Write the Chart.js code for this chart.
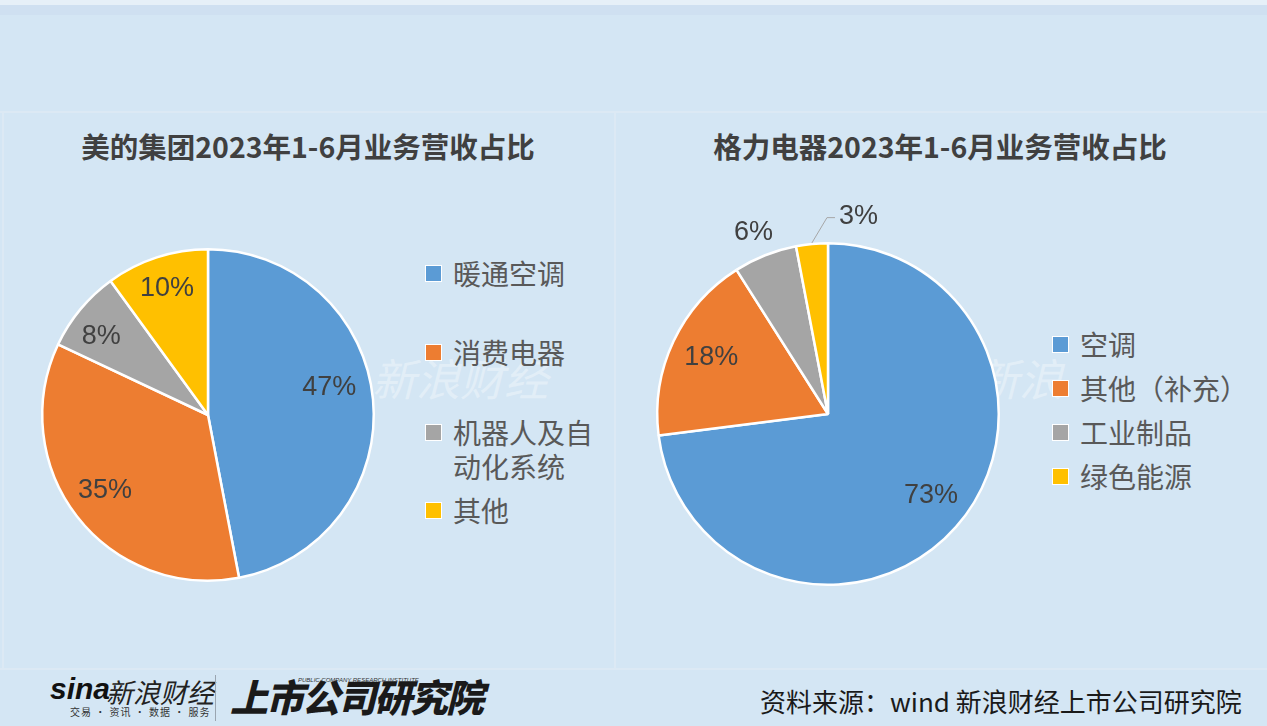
<!DOCTYPE html>
<html>
<head>
<meta charset="utf-8">
<script src="https://cdn.jsdelivr.net/npm/chart.js@4"></script>
<style>
  html, body { margin: 0; padding: 0; }
  body { width: 1267px; height: 726px; overflow: hidden; background: #d4e6f4; position: relative;
         font-family: "Noto Sans CJK SC", "Liberation Sans", sans-serif; }
  .topband { position: absolute; left: 0; top: 0; width: 1267px; height: 5px; background: #e6f0f8; }
  .topband2 { position: absolute; left: 0; top: 5px; width: 1267px; height: 10px; background: #cfe0f1; }
  .hline { position: absolute; left: 0; width: 1267px; height: 2px; background: #dce9f4; }
  .vline { position: absolute; width: 2px; background: #dce9f4; }
  .title { position: absolute; top: 125px; font-size: 28.5px; font-weight: bold; color: #404040;
           text-align: center; width: 600px; }
  .legend { position: absolute; color: #595959; font-size: 28px; line-height: 34px; }
  .legend .item { position: relative; padding-left: 28px; }
  .legend .sw { position: absolute; left: 0; top: 9px; width: 15px; height: 15px; border: 1.5px solid #fff; }
  canvas { position: absolute; }
  .wm { position: absolute; color: rgba(255,255,255,0.35); font-style: italic; font-size: 44px; }
  .source { position: absolute; left: 760px; top: 682px; font-size: 26px; color: #1a1a1a; }
  .sina { position: absolute; left: 50px; top: 672px; font: italic bold 30px "Liberation Sans", sans-serif; color: #111; }
  .sina-cn { position: absolute; left: 106px; top: 672px; font-size: 27px; color: #222; font-style: italic; }
  .sina-sub { position: absolute; left: 70px; top: 704px; font-size: 10px; color: #333; letter-spacing: 1px; }
  .divider { position: absolute; left: 215px; top: 675px; width: 1px; height: 46px; background: #9aa5b0; }
  .inst { position: absolute; left: 230px; top: 668px; font-size: 38px; font-weight: 900; color: #1a1a1a;
          font-style: italic; letter-spacing: -2px; }
  .inst-en { position: absolute; left: 298px; top: 677px; font: italic 6px "Liberation Sans", sans-serif; color: #333; }
</style>
</head>
<body>
<div class="topband"></div>
<div class="topband2"></div>
<div class="hline" style="top:111px"></div>
<div class="hline" style="top:668px"></div>
<div class="vline" style="left:614px; top:111px; height:558px"></div>
<div class="vline" style="left:2px; top:111px; height:558px"></div>

<div class="wm" style="left:372px; top:345px;">新浪财经</div>
<div class="wm" style="left:975px; top:345px;">新浪</div>

<div class="title" style="left:8px;">美的集团2023年1-6月业务营收占比</div>
<div class="title" style="left:640px;">格力电器2023年1-6月业务营收占比</div>

<canvas id="midea" width="416" height="470" style="left:0px; top:180px;"></canvas>
<canvas id="gree" width="416" height="488" style="left:620px; top:170px;"></canvas>

<div class="legend" id="mideaLegend" style="left:425px; top:256px;"></div>
<div class="legend" id="greeLegend" style="left:1052px; top:327px;"></div>

<div class="sina">sina</div>
<div class="sina-cn">新浪财经</div>
<div class="sina-sub">交易 · 资讯 · 数据 · 服务</div>
<div class="divider"></div>
<div class="inst">上市公司研究院</div>
<div class="inst-en">PUBLIC COMPANY RESEARCH INSTITUTE</div>

<div class="source">资料来源：wind 新浪财经上市公司研究院</div>

<script>
// Data (percent of revenue, H1 2023)
const mideaLabels = ['暖通空调', '消费电器', '机器人及自动化系统', '其他'];
const mideaLegendText = ['暖通空调', '消费电器', '机器人及自<br>动化系统', '其他'];
const mideaValues = [47, 35, 8, 10];

const greeLabels = ['空调', '其他（补充）', '工业制品', '绿色能源'];
const greeValues = [73, 18, 6, 3];

const sliceColors = ['#5b9bd5', '#ed7d31', '#a5a5a5', '#ffc000'];

// label placement per slice (radius fraction, angle shift in degrees)
const mideaLabelLayout = [
    { r: 0.75, shift: -7.5 },
    { r: 0.77, shift: 1.6 },
    { r: 0.80, shift: -3.2 },
    { r: 0.80, shift: 0 }
];
const greeLabelLayout = [
    { r: 0.77, shift: -2.9 },
    { r: 0.76, shift: 0.6 },
    { r: 1.15, shift: -0.7 },
    { r: 1.15, shift: 5.1, leader: true }
];

/**
 * Draw percentage labels on the slices
 */
const pctLabels = {
    id: 'pctLabels',
    afterDatasetsDraw(chart, args, opts) {
        const ctx = chart.ctx;
        const meta = chart.getDatasetMeta(0);
        const values = chart.data.datasets[0].data;
        ctx.save();
        ctx.font = '27px "Liberation Sans", Arial, sans-serif';
        ctx.fillStyle = '#404040';
        ctx.textBaseline = 'middle';
        meta.data.forEach((arc, i) => {
            const lay = opts.layout[i];
            const mid = (arc.startAngle + arc.endAngle) / 2;
            const ang = mid + lay.shift * Math.PI / 180;
            const r = arc.outerRadius * lay.r;
            const x = arc.x + Math.cos(ang) * r;
            const y = arc.y + Math.sin(ang) * r;
            const text = values[i] + '%';
            if (lay.leader) {
                const sx = arc.x + Math.cos(mid) * (arc.outerRadius + 1);
                const sy = arc.y + Math.sin(mid) * (arc.outerRadius + 1);
                ctx.strokeStyle = '#a6a6a6';
                ctx.lineWidth = 1;
                ctx.beginPath();
                ctx.moveTo(sx, sy);
                ctx.lineTo(x, y);
                ctx.lineTo(x + 8, y);
                ctx.stroke();
                ctx.textAlign = 'left';
                ctx.fillText(text, x + 12, y - 1);
            } else {
                ctx.textAlign = 'center';
                ctx.fillText(text, x, y);
            }
        });
        ctx.restore();
    }
};

function createPie(id, labels, values, layout, padding) {
    return new Chart(document.getElementById(id), {
        type: 'pie',
        data: {
            labels: labels,
            datasets: [{
                data: values,
                backgroundColor: sliceColors,
                borderColor: '#ffffff',
                borderWidth: 2.5
            }]
        },
        options: {
            responsive: false,
            animation: false,
            layout: { padding: padding },
            plugins: {
                legend: { display: false },
                tooltip: { enabled: false },
                pctLabels: { layout: layout }
            }
        },
        plugins: [pctLabels]
    });
}

function buildLegend(id, texts, gaps) {
    const el = document.getElementById(id);
    texts.forEach((t, i) => {
        const item = document.createElement('div');
        item.className = 'item';
        item.style.marginBottom = gaps[i] + 'px';
        item.innerHTML = '<span class="sw" style="background:' + sliceColors[i] + '"></span>' + t;
        el.appendChild(item);
    });
}

createPie('midea', mideaLabels, mideaValues, mideaLabelLayout, { left: 41, right: 41, top: 68, bottom: 68 });
createPie('gree', greeLabels, greeValues, greeLabelLayout, { left: 36, right: 36, top: 72, bottom: 72 });

buildLegend('mideaLegend', mideaLegendText, [45, 46, 10, 0]);
buildLegend('greeLegend', greeLabels, [10, 10, 10, 0]);
</script>
</body>
</html>
